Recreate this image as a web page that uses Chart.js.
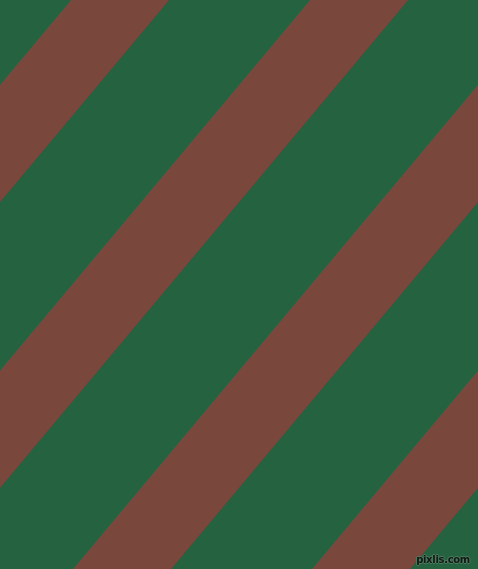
<!DOCTYPE html>
<html>
<head>
<meta charset="utf-8">
<script src="https://cdn.jsdelivr.net/npm/chart.js@4/dist/chart.umd.min.js"></script>
<style>
  html, body { margin: 0; padding: 0; background: #256340; overflow: hidden; }
  #wrap { position: relative; width: 478px; height: 569px; background: #256340; }
  #mark {
    position: absolute; right: 8px; bottom: 4px;
    font: bold 10px 'DejaVu Sans', sans-serif; letter-spacing: -0.3px;
    color: #0f1a13;
    text-shadow: 1px 0 0 #4f7a60, -1px 0 0 #4f7a60, 0 1px 0 #4f7a60, 0 -1px 0 #4f7a60;
  }
</style>
</head>
<body>
<div id="wrap">
  <canvas id="c" width="478" height="569"></canvas>
  <div id="mark">pixlis.com</div>
</div>
<script>
// stripe edges: x where each brown band meets the top (y=0)
// and the bottom (y=569) edge of the frame
var stripeTopStart    = [71, 310, 549, 788];
var stripeTopEnd      = [169, 408, 647, 886];
var stripeBottomStart = [-405, -166, 73, 312];
var stripeBottomEnd   = [-307, -68, 171, 410];

var frameW = 478, frameH = 569;
var stripeColor = '#7a473d';

// each band as a closed polygon, filled with the 'shape' mode
var datasets = stripeTopStart.map(function (x0, i) {
  return {
    data: [
      { x: x0, y: 0 },
      { x: stripeTopEnd[i], y: 0 },
      { x: stripeBottomEnd[i], y: frameH },
      { x: stripeBottomStart[i], y: frameH },
      { x: x0, y: 0 }
    ],
    borderWidth: 0, borderColor: stripeColor,
    backgroundColor: stripeColor,
    pointRadius: 0, tension: 0, fill: 'shape'
  };
});

new Chart(document.getElementById('c').getContext('2d'), {
  type: 'line',
  data: { datasets: datasets },
  options: {
    responsive: false, animation: false,
    layout: { padding: 0 },
    plugins: { legend: { display: false }, tooltip: { enabled: false } },
    scales: {
      x: { type: 'linear', display: false, min: 0, max: frameW },
      y: { type: 'linear', display: false, min: 0, max: frameH, reverse: true }
    }
  }
});
</script>
</body>
</html>
